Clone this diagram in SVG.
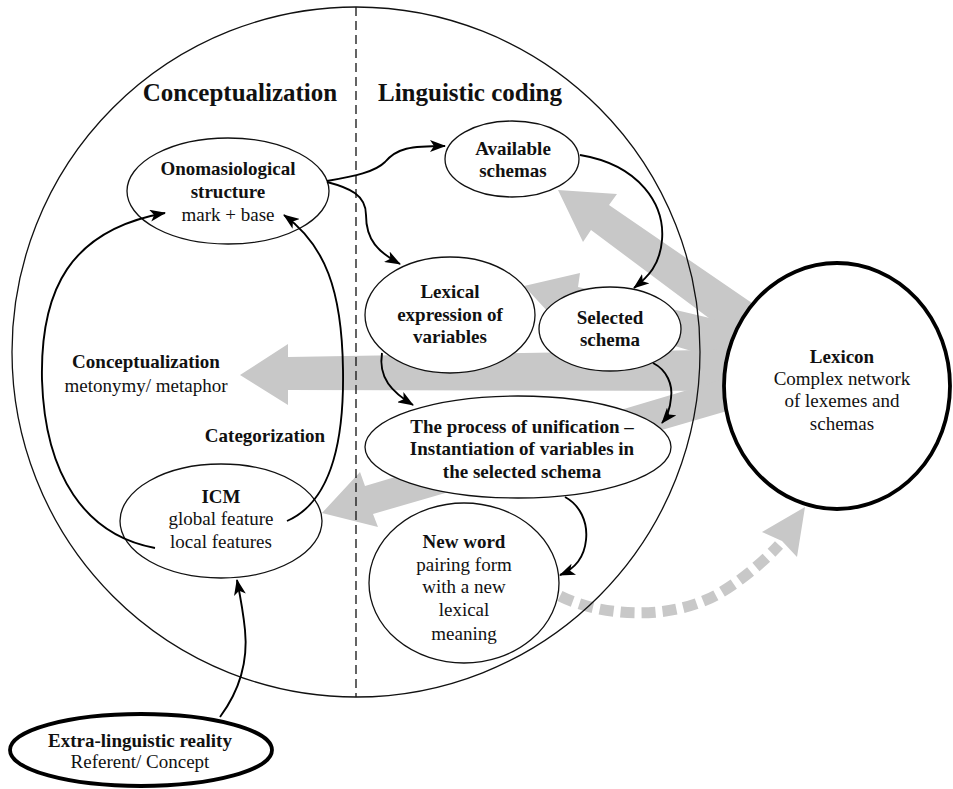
<svg xmlns="http://www.w3.org/2000/svg" width="953" height="789" viewBox="0 0 953 789">
<defs>
<style>
.t{font-family:"Liberation Serif","Times New Roman",serif;font-size:19px;fill:#111;text-anchor:middle}
.b{font-weight:bold}
.h{font-size:25px;font-weight:bold}
.node{fill:#fff;stroke:#111;stroke-width:1.3}
.thick{fill:#fff;stroke:#000;stroke-width:3.8}
.con{fill:none;stroke:#000;stroke-width:1.9;marker-end:url(#ah)}
.gray{fill:#c8c8c8;stroke:none}
</style>
<marker id="ah" viewBox="0 0 16 12" refX="15" refY="6" markerWidth="16" markerHeight="12" markerUnits="userSpaceOnUse" orient="auto">
<path d="M0,0 L16,6 L0,12 L4,6 z" fill="#000"/>
</marker>
</defs>
<rect width="953" height="789" fill="#fff"/>
<g id="lexicon-flows">
<polygon class="gray" points="558,190 617,194 609,205 765,312 765,360 591,230 583,242"/>
<polygon class="gray" points="524,286 580,273 578,287 765,331 765,373 568,314 564,329"/>
<polygon class="gray" points="240,375 288,344 288,357 765,349 765,391 288,390 288,405"/>
<polygon class="gray" points="322,513 360,472 365,486 765,367 765,400 373,514 378,527"/>
<path d="M560,596 C600,616 670,622 720,593 C745,578 765,560 779,545" fill="none" stroke="#c8c8c8" stroke-width="11" stroke-dasharray="14 7"/>
<polygon class="gray" points="805,507 762,532 782,541 797,557"/>
</g>
<g id="frame">
<ellipse cx="356" cy="352" rx="344" ry="345" fill="none" stroke="#111" stroke-width="1.3"/>
<line x1="356" y1="7" x2="356" y2="697" stroke="#111" stroke-width="1.3" stroke-dasharray="9 5"/>
<text class="t h" x="240" y="101">Conceptualization</text>
<text class="t h" x="470" y="101">Linguistic coding</text>
</g>
<g id="onomasiological">
<ellipse class="node" cx="228" cy="191" rx="101" ry="53"/>
<text class="t b" x="228" y="175">Onomasiological</text>
<text class="t b" x="228" y="198">structure</text>
<text class="t" x="228" y="221">mark + base</text>
</g>
<g id="available">
<ellipse class="node" cx="512" cy="159" rx="67" ry="38"/>
<text class="t b" x="513" y="155">Available</text>
<text class="t b" x="513" y="177">schemas</text>
</g>
<g id="lexical">
<ellipse class="node" cx="450" cy="315" rx="85" ry="58"/>
<text class="t b" x="450" y="298">Lexical</text>
<text class="t b" x="450" y="321">expression of</text>
<text class="t b" x="450" y="343">variables</text>
</g>
<g id="selected">
<ellipse class="node" cx="610" cy="329" rx="71" ry="42"/>
<text class="t b" x="610" y="324">Selected</text>
<text class="t b" x="610" y="346">schema</text>
</g>
<g id="unification">
<ellipse class="node" cx="518" cy="447" rx="153" ry="51"/>
<text class="t b" x="522" y="433">The process of unification –</text>
<text class="t b" x="522" y="455">Instantiation of variables in</text>
<text class="t b" x="522" y="478">the selected schema</text>
</g>
<g id="newword">
<ellipse class="node" cx="464" cy="583" rx="95" ry="80"/>
<text class="t b" x="464" y="548">New word</text>
<text class="t" x="464" y="571">pairing form</text>
<text class="t" x="464" y="593">with a new</text>
<text class="t" x="464" y="616">lexical</text>
<text class="t" x="464" y="640">meaning</text>
</g>
<g id="icm">
<ellipse class="node" cx="221" cy="521" rx="101" ry="57"/>
<text class="t b" x="221" y="503">ICM</text>
<text class="t" x="221" y="525">global feature</text>
<text class="t" x="221" y="548">local features</text>
</g>
<g id="lexicon">
<ellipse class="thick" cx="837" cy="386" rx="113" ry="123"/>
<text class="t b" x="842" y="363">Lexicon</text>
<text class="t" x="842" y="385">Complex network</text>
<text class="t" x="842" y="407">of lexemes and</text>
<text class="t" x="842" y="430">schemas</text>
</g>
<g id="extra">
<ellipse class="thick" cx="141" cy="750" rx="131" ry="36"/>
<text class="t b" x="140" y="747">Extra-linguistic reality</text>
<text class="t" x="140" y="768">Referent/ Concept</text>
</g>
<g id="labels">
<text class="t b" x="146" y="368">Conceptualization</text>
<text class="t" x="146" y="392">metonymy/ metaphor</text>
<text class="t b" x="265" y="442">Categorization</text>
</g>
<g id="connectors">
<path class="con" d="M327,181 C355,176 375,172 385,162 C397,148 410,146 445,146"/>
<path class="con" d="M327,182 C350,188 366,195 366,215 C366,240 378,252 400,264"/>
<path class="con" d="M580,155 C640,165 665,205 662,240 C660,265 648,277 634,288"/>
<path class="con" d="M382,353 C378,378 392,392 413,405"/>
<path class="con" d="M653,363 C667,370 673,385 671,398 C670,410 667,417 662,423"/>
<path class="con" d="M565,497 C580,505 588,522 586,540 C584,560 572,570 560,575"/>
<path class="con" d="M287,521 C335,500 344,430 343,370 C342,290 325,245 284,215"/>
<path class="con" d="M155,548 C85,535 45,475 42,380 C40,290 70,230 165,213"/>
<path class="con" d="M220,717 C240,690 248,660 245,630 C243,610 240,595 237,580"/>
</g>
</svg>
